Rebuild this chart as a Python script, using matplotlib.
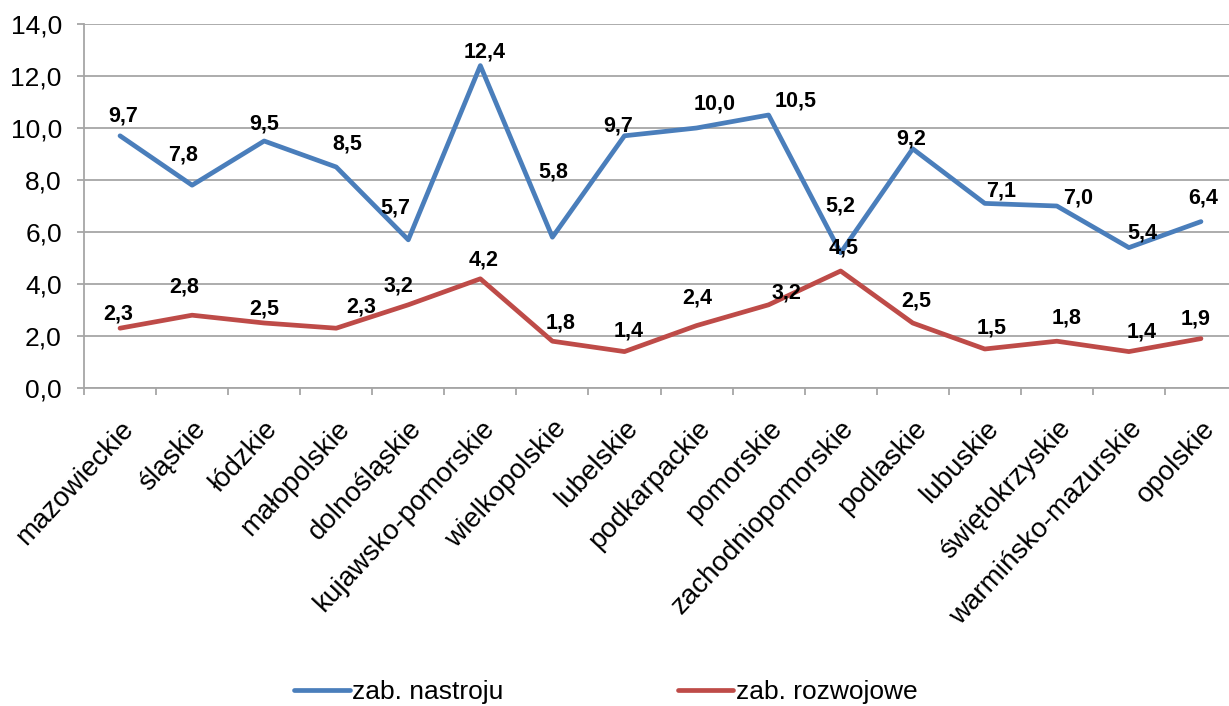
import matplotlib
matplotlib.use("Agg")
import matplotlib.pyplot as plt
import numpy as np

categories = ["mazowieckie", "śląskie", "łódzkie", "małopolskie", "dolnośląskie",
              "kujawsko-pomorskie", "wielkopolskie", "lubelskie", "podkarpackie",
              "pomorskie", "zachodniopomorskie", "podlaskie", "lubuskie",
              "świętokrzyskie", "warmińsko-mazurskie", "opolskie"]
nastroju = [9.7, 7.8, 9.5, 8.5, 5.7, 12.4, 5.8, 9.7, 10.0, 10.5, 5.2, 9.2, 7.1, 7.0, 5.4, 6.4]
rozwojowe = [2.3, 2.8, 2.5, 2.3, 3.2, 4.2, 1.8, 1.4, 2.4, 3.2, 4.5, 2.5, 1.5, 1.8, 1.4, 1.9]
series_names = ["zab. nastroju", "zab. rozwojowe"]
yticks = [0, 2, 4, 6, 8, 10, 12, 14]

# data-label placement (pixel nudges from each point, as in the original chart)
nudge_nastroju = [(3, 20), (-9, 30), (0, 17), (11, 23), (-13, 32), (4, 14), (1, 65), (-6, 10),
                  (18, 24), (27, 14), (0, 47), (-2, 10), (16, 12), (21, 8), (13, 15), (2, 24)]
nudge_rozwojowe = [(-2, 14), (-8, 28), (0, 14), (25, 21), (-10, 19), (3, 19), (8, 18), (4, 21),
                   (1, 28), (18, 12), (3, 23), (4, 22), (7, 21), (10, 23), (13, 20), (-5, 20)]

plt.rcParams['font.family'] = ['Liberation Sans', 'DejaVu Sans']

fig = plt.figure(figsize=(12.29, 7.06), dpi=100)
ax = fig.add_axes([84/1229, 1-388/706, (1237-84)/1229, (388-24)/706])

x = np.arange(len(categories))
blue = '#4A7EBB'
red = '#BE4B48'
l1, = ax.plot(x, nastroju, color=blue, lw=3.4, solid_capstyle='round', solid_joinstyle='round', label=series_names[0], zorder=3)
l2, = ax.plot(x, rozwojowe, color=red, lw=3.4, solid_capstyle='round', solid_joinstyle='round', label=series_names[1], zorder=3)

def fmt(v):
    return f"{v:.1f}".replace('.', ',')

for vals, nudges in [(nastroju, nudge_nastroju), (rozwojowe, nudge_rozwojowe)]:
    for xi, v, (dx, dy) in zip(x, vals, nudges):
        ax.annotate(fmt(v), (xi, v), xytext=(dx, dy), textcoords='offset pixels',
                    ha='center', va='center', fontsize=15.5, fontweight='bold', zorder=4)

ax.set_xlim(-0.5, len(categories) - 0.5)
ax.set_ylim(0, 14)
ax.set_yticks(yticks)
ax.set_yticklabels([fmt(v) for v in yticks], fontsize=19)
ax.yaxis.grid(True, color='#A6A6A6', lw=1.3)
ax.set_axisbelow(True)

ax.set_xticks(x)
ax.set_xticklabels(categories, rotation=47, ha='right', va='top', rotation_mode='anchor', fontsize=20)
ax.set_xticks(np.arange(len(categories) + 1) - 0.5, minor=True)
ax.tick_params(axis='x', which='major', length=0, pad=20)
ax.tick_params(axis='x', which='minor', length=5, width=1.3, color='#A6A6A6')
ax.tick_params(axis='y', length=5, width=1.3, color='#A6A6A6', pad=11)

for s in ['top', 'right']:
    ax.spines[s].set_visible(False)
for s in ['left', 'bottom']:
    ax.spines[s].set_color('#A6A6A6')
    ax.spines[s].set_linewidth(1.3)

fig.legend(handles=[l1, l2], loc='center', bbox_to_anchor=(606/1229, 1-692/706), ncol=2,
           frameon=False, fontsize=19, handlelength=2.1, handletextpad=0.1, columnspacing=6.6)

fig.savefig("out.png", dpi=100)
